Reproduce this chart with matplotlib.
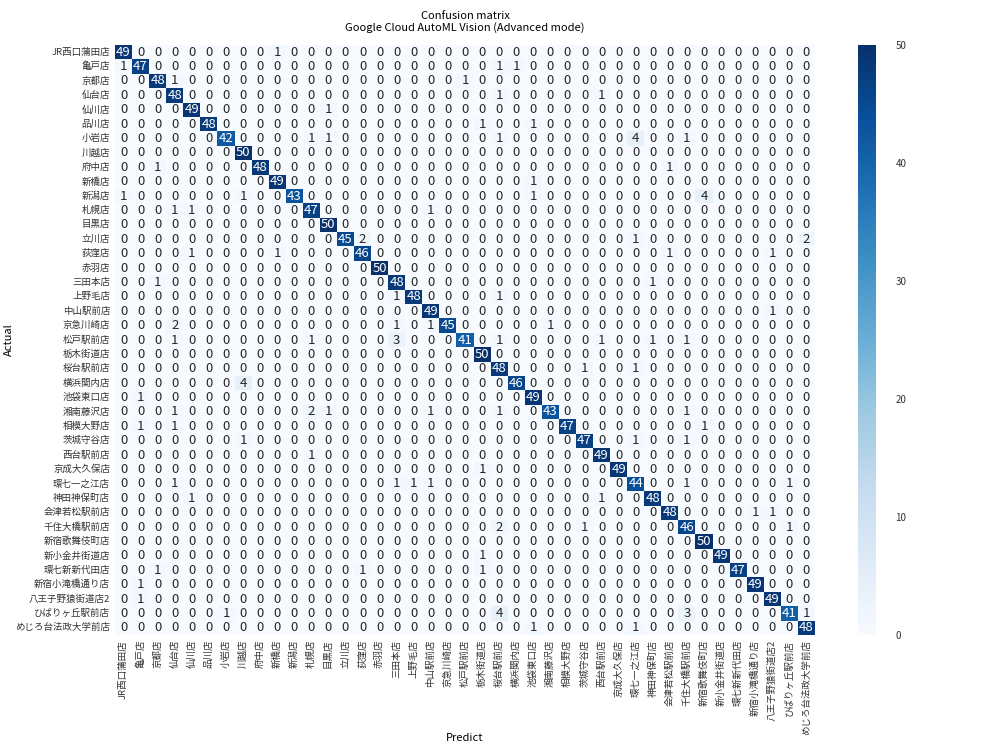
import numpy as np
import matplotlib
matplotlib.use("Agg")
import matplotlib.pyplot as plt
import seaborn as sns

plt.rcParams['font.family'] = ['Noto Sans CJK JP', 'DejaVu Sans']

# Nombres de las tiendas (clases)
labels = ["JR西口蒲田店", "亀戸店", "京都店", "仙台店", "仙川店", "品川店", "小岩店",
          "川越店", "府中店", "新橋店", "新潟店", "札幌店", "目黒店", "立川店", "荻窪店",
          "赤羽店", "三田本店", "上野毛店", "中山駅前店", "京急川崎店", "松戸駅前店",
          "栃木街道店", "桜台駅前店", "横浜関内店", "池袋東口店", "湘南藤沢店", "相模大野店",
          "茨城守谷店", "西台駅前店", "京成大久保店", "環七一之江店", "神田神保町店",
          "会津若松駅前店", "千住大橋駅前店", "新宿歌舞伎町店", "新小金井街道店",
          "環七新新代田店", "新宿小滝橋通り店", "八王子野猿街道店2", "ひばりヶ丘駅前店",
          "めじろ台法政大学前店"]

# Aciertos en la diagonal
diagonal = [49, 47, 48, 48, 49, 48, 42, 50, 48, 49, 43, 47, 50, 45, 46, 50, 48, 48,
            49, 45, 41, 50, 48, 46, 49, 43, 47, 47, 49, 49, 44, 48, 48, 46, 50, 49,
            47, 49, 49, 41, 48]

# Errores: (fila real, columna predicha, cantidad)
errors = [
    (0, 9, 1),
    (1, 0, 1), (1, 22, 1), (1, 23, 1),
    (2, 3, 1), (2, 20, 1),
    (3, 22, 1), (3, 28, 1),
    (4, 12, 1),
    (5, 21, 1), (5, 24, 1),
    (6, 11, 1), (6, 12, 1), (6, 22, 1), (6, 30, 4), (6, 33, 1),
    (8, 2, 1), (8, 32, 1),
    (9, 24, 1),
    (10, 0, 1), (10, 7, 1), (10, 24, 1), (10, 34, 4),
    (11, 3, 1), (11, 4, 1), (11, 18, 1),
    (13, 14, 2), (13, 30, 1), (13, 40, 2),
    (14, 4, 1), (14, 9, 1), (14, 32, 1), (14, 38, 1),
    (16, 2, 1), (16, 31, 1),
    (17, 16, 1), (17, 22, 1),
    (18, 38, 1),
    (19, 3, 2), (19, 16, 1), (19, 18, 1), (19, 25, 1),
    (20, 3, 1), (20, 11, 1), (20, 16, 3), (20, 22, 1), (20, 28, 1), (20, 31, 1), (20, 33, 1),
    (22, 27, 1), (22, 30, 1),
    (23, 7, 4),
    (24, 1, 1),
    (25, 3, 1), (25, 11, 2), (25, 12, 1), (25, 18, 1), (25, 22, 1), (25, 33, 1),
    (26, 1, 1), (26, 3, 1), (26, 34, 1),
    (27, 7, 1), (27, 30, 1), (27, 33, 1),
    (28, 11, 1),
    (29, 21, 1),
    (30, 3, 1), (30, 16, 1), (30, 17, 1), (30, 18, 1), (30, 33, 1), (30, 39, 1),
    (31, 4, 1), (31, 28, 1),
    (32, 37, 1), (32, 38, 1),
    (33, 22, 2), (33, 27, 1), (33, 39, 1),
    (35, 21, 1),
    (36, 2, 1), (36, 14, 1), (36, 21, 1),
    (37, 1, 1),
    (38, 1, 1),
    (39, 6, 1), (39, 22, 4), (39, 33, 3), (39, 40, 1),
    (40, 24, 1), (40, 30, 1),
]

n = len(labels)
cm = np.diag(diagonal)
for r, c, v in errors:
    cm[r, c] = v

fig = plt.figure(figsize=(10, 7.5), dpi=100)
ax = fig.add_axes([0.115, 0.1533, 0.70, 0.7867])
cax = fig.add_axes([0.858, 0.1533, 0.018, 0.7867])

sns.heatmap(cm, annot=True, fmt="d", cmap="Blues", vmin=0, vmax=50,
            xticklabels=labels, yticklabels=labels, ax=ax, cbar_ax=cax,
            annot_kws={"fontsize": 9.5})

ax.tick_params(axis="both", length=0, labelsize=6.8, colors="#333333")
ax.set_xticklabels(labels, rotation=90)
ax.set_yticklabels(labels, rotation=0)
ax.set_xlabel("Predict", fontsize=8)
ax.set_ylabel("Actual", fontsize=8)
ax.xaxis.set_label_coords(0.5, -0.166)
ax.yaxis.set_label_coords(-0.144, 0.5)
ax.set_title("Confusion matrix\nGoogle Cloud AutoML Vision (Advanced mode)",
             fontsize=8, pad=10)

cax.tick_params(length=0, pad=14, labelsize=7, colors="#333333")

fig.savefig("out.png", dpi=100)
